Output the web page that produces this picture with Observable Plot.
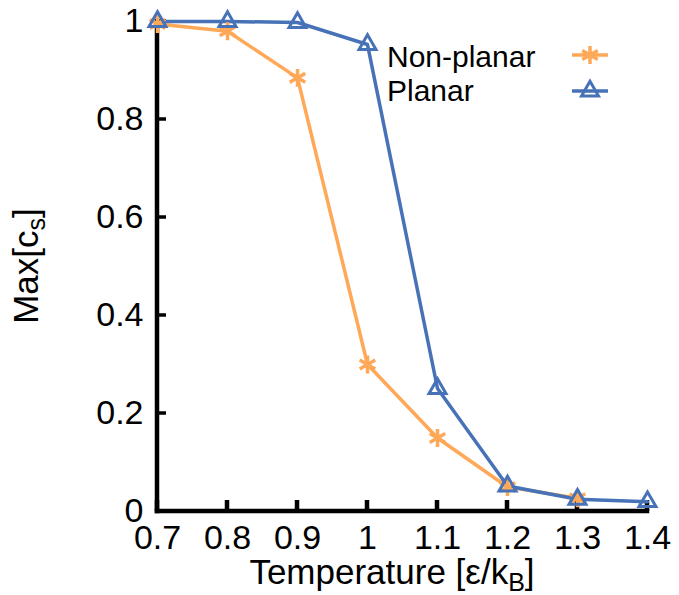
<!DOCTYPE html>
<html>
<head>
<meta charset="utf-8">
<script src="https://cdn.jsdelivr.net/npm/d3@7"></script>
<script src="https://cdn.jsdelivr.net/npm/@observablehq/plot@0.6"></script>
<style>
  html, body { margin: 0; padding: 0; background: #fff; }
  svg { font-family: "Liberation Sans", Arial, sans-serif; }
</style>
</head>
<body>
<div id="chart"></div>
<script>
const temperature = [0.7, 0.8, 0.9, 1.0, 1.1, 1.2, 1.3, 1.4];
const nonPlanar = [0.995, 0.98, 0.885, 0.30, 0.15, 0.05, 0.027, null];
const planar = [1.0, 1.0, 0.998, 0.953, 0.251, 0.052, 0.025, 0.02];
const xTicks = [0.7, 0.8, 0.9, 1.0, 1.1, 1.2, 1.3, 1.4];
const yTicks = [0, 0.2, 0.4, 0.6, 0.8, 1];
const seriesNames = ["Non-planar", "Planar"];
const colors = ["#ffa857", "#4772b7"];

const rows = [];
temperature.forEach((t, i) => {
  if (nonPlanar[i] != null) rows.push({t, v: nonPlanar[i], s: seriesNames[0]});
  if (planar[i] != null) rows.push({t, v: planar[i], s: seriesNames[1]});
});
const np = rows.filter(d => d.s === seriesNames[0]);
const pl = rows.filter(d => d.s === seriesNames[1]);

const W = 679, H = 595;
const mL = 157, mR = 32, mT = 21, mB = 84;
const fmt = d => String(+(+d).toFixed(1));

const chart = Plot.plot({
  width: W, height: H,
  marginLeft: mL, marginRight: mR, marginTop: mT, marginBottom: mB,
  style: {fontFamily: '"Liberation Sans", Arial, sans-serif', background: "#fff", overflow: "visible"},
  x: {domain: [0.7, 1.4]},
  y: {domain: [0, 1]},
  marks: [
    Plot.axisX(xTicks, {tickSize: 0, tickPadding: 13, tickFormat: fmt, fontSize: 34, fill: "#000", label: null}),
    Plot.axisY(yTicks, {tickSize: 0, tickPadding: 14, tickFormat: fmt, fontSize: 34, fill: "#000", label: null}),
    Plot.line(np, {x: "t", y: "v", stroke: colors[0], strokeWidth: 3.5}),
    Plot.line(pl, {x: "t", y: "v", stroke: colors[1], strokeWidth: 3.5}),
    Plot.dot(np, {x: "t", y: "v", symbol: "asterisk", r: 8.5, stroke: colors[0], strokeWidth: 3.5}),
    Plot.dot(pl, {x: "t", y: "v", symbol: "triangle", r: 6.3, stroke: colors[1], strokeWidth: 3, fill: "none"})
  ]
});
document.getElementById("chart").appendChild(chart);

const svg = d3.select(chart);
const xs = chart.scale("x"), ys = chart.scale("y");
const x0 = xs.apply(0.7), x1 = xs.apply(1.4), y0 = ys.apply(0), y1 = ys.apply(1);
// spines and inward ticks
const axG = svg.append("g").attr("stroke", "#000").attr("stroke-width", 4.5).attr("stroke-linecap", "square");
axG.append("line").attr("x1", x0).attr("x2", x0).attr("y1", y1).attr("y2", y0);
axG.append("line").attr("x1", x0).attr("x2", x1).attr("y1", y0).attr("y2", y0);
xTicks.forEach(t => {
  const px = xs.apply(t);
  axG.append("line").attr("x1", px).attr("x2", px).attr("y1", y0).attr("y2", y0 - 11).attr("stroke-linecap", "butt");
});
yTicks.forEach(t => {
  const py = ys.apply(t);
  axG.append("line").attr("x1", x0).attr("x2", x0 + 9).attr("y1", py).attr("y2", py).attr("stroke-width", 3.5).attr("stroke-linecap", "butt");
});
// keep the data marks on top of the axes
svg.selectAll("g[aria-label='line'], g[aria-label='dot']").each(function() { chart.appendChild(this); });

// x title
const xt = svg.append("text")
  .attr("x", 392).attr("y", 584)
  .attr("text-anchor", "middle")
  .attr("font-size", 35).attr("fill", "#000");
xt.append("tspan").text("Temperature [ε/k");
xt.append("tspan").attr("font-size", 25).attr("dy", 7).text("B");
xt.append("tspan").attr("dy", -7).text("]");

// y title
const yt = svg.append("text")
  .attr("transform", "translate(38,266) rotate(-90)")
  .attr("text-anchor", "middle")
  .attr("font-size", 35).attr("fill", "#000");
yt.append("tspan").text("Max[c");
yt.append("tspan").attr("font-size", 25).attr("dy", 7).text("s");
yt.append("tspan").attr("dy", -7).text("]");

// legend
const sym = [d3.symbolAsterisk, d3.symbolTriangle];
const legY = [55, 91];
const textY = [67, 101];
seriesNames.forEach((name, i) => {
  svg.append("text").attr("x", 387).attr("y", textY[i])
    .attr("text-anchor", "start")
    .attr("font-size", 30).attr("fill", "#000").text(name);
  svg.append("line").attr("x1", 572).attr("x2", 608)
    .attr("y1", legY[i]).attr("y2", legY[i])
    .attr("stroke", colors[i]).attr("stroke-width", 3.5);
  svg.append("path")
    .attr("transform", `translate(590,${legY[i]})`)
    .attr("d", d3.symbol(sym[i], i === 0 ? 227 : 125)())
    .attr("fill", "none").attr("stroke", colors[i]).attr("stroke-width", i === 0 ? 3.5 : 3);
});
</script>
</body>
</html>
